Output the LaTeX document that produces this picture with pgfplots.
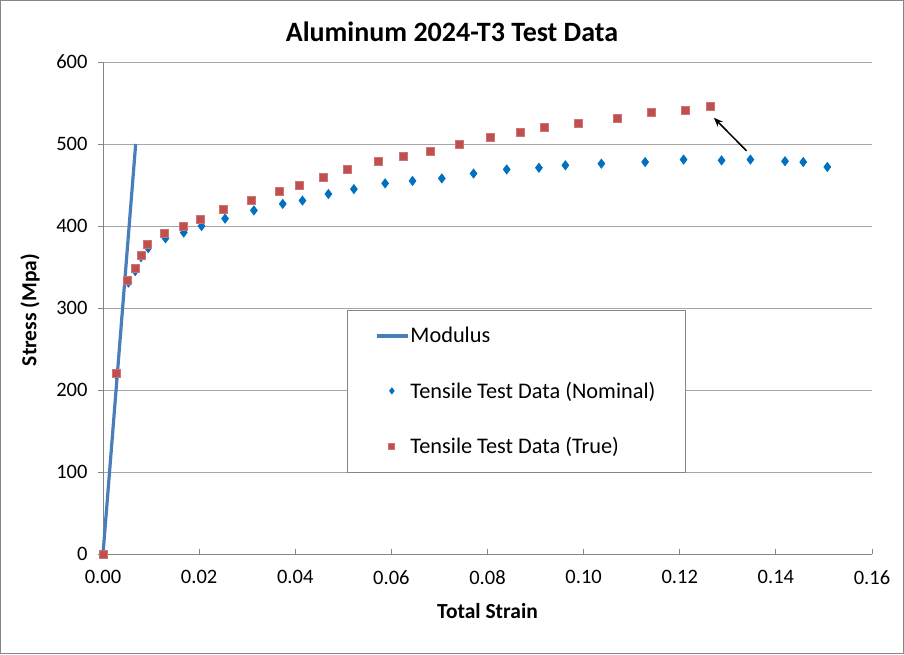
\documentclass[border=0pt]{standalone}
\usepackage{pgfplots}
\pgfplotsset{compat=1.18}
\usepackage{fontspec}
\setmainfont{Carlito}
\usetikzlibrary{arrows.meta}
\definecolor{modblue}{HTML}{4A7EBB}
\definecolor{nomblue}{HTML}{0070C0}
\definecolor{truered}{HTML}{C0504D}
\definecolor{gridgray}{HTML}{A6A6A6}
\definecolor{axgray}{HTML}{868686}
\begin{document}
\begin{tikzpicture}
\fill[white] (0pt,0pt) rectangle (904pt,654pt);
\draw[axgray, line width=1.2pt] (0.8pt,0.8pt) rectangle (903.2pt,653.2pt);
\node[font=\fontsize{28}{33}\selectfont\bfseries] at (452pt,622pt) {Aluminum 2024-T3 Test Data};
\begin{axis}[
  at={(103pt,100pt)}, anchor=south west,
  scale only axis, width=769pt, height=492pt,
  xmin=0, xmax=0.16, ymin=0, ymax=600,
  xtick={0,0.02,...,0.16}, ytick={0,100,...,600},
  xticklabel style={/pgf/number format/fixed, /pgf/number format/fixed zerofill, /pgf/number format/precision=2, yshift=-13pt},
  /pgf/number format/assume math mode=true,
  ticklabel style={font=\fontsize{20.5}{24}\selectfont},
  yticklabel style={xshift=-12pt},
  axis x line*=bottom, axis y line*=left,
  axis line style={axgray, line width=1pt, -},
  tick style={axgray, line width=1pt},
  tick align=inside, major tick length=5pt,
  y tick style={xshift=-5pt},
  ymajorgrids, grid style={gridgray, line width=1pt},
  xlabel={Total Strain}, ylabel={Stress (Mpa)},
  every axis x label/.style={at={(rel axis cs:0.5,0)}, yshift=-57pt, anchor=center, font=\fontsize{21.5}{25}\selectfont\bfseries},
  every axis y label/.style={at={(rel axis cs:0,0.496)}, xshift=-73pt, rotate=90, anchor=center, font=\fontsize{21.5}{25}\selectfont\bfseries},
  legend style={at={(0.317,0.496)}, anchor=north west, draw=axgray, line width=1pt,
    font=\fontsize{22.3}{26}\selectfont, inner xsep=28pt, inner ysep=15pt, row sep=33.5pt,
    legend cell align=left, fill=white},
  clip=false,
]
\addplot[modblue, line width=3.2pt, legend image code/.code={\draw[modblue, line width=3.2pt] (0pt,0pt) -- (31pt,0pt);}]
 coordinates {(0,0) (0.0068,500)};
\addlegendentry{\hspace{-1pt}Modulus}
\addplot[only marks, mark=diamond*, mark size=4.5pt, color=nomblue, mark options={fill=nomblue, draw=nomblue, line width=0.8pt},
  legend image code/.code={\draw[only marks, mark=diamond*, mark size=3pt, nomblue] plot coordinates {(15pt,0pt)};}]
 coordinates {
 (0,0) (0.0027,219) (0.0053,331) (0.0067,345) (0.0079,362) (0.0094,373) (0.0130,385) (0.0168,392)
 (0.0205,400) (0.0254,409) (0.0314,419) (0.0374,427) (0.0415,431) (0.0469,439) (0.0522,445)
 (0.0587,452) (0.0644,455) (0.0705,458) (0.0771,464) (0.0840,469) (0.0907,471) (0.0962,474)
 (0.1037,476) (0.1128,478) (0.1208,481) (0.1287,480) (0.1347,481) (0.1419,479) (0.1457,478) (0.1507,472)
 };
\addlegendentry{\hspace{-1pt}Tensile Test Data (Nominal)\hspace{-13pt}}
\addplot[only marks, mark=square*, mark size=4pt, color=truered, mark options={fill=truered, draw=truered!80!white},
  legend image code/.code={\draw[only marks, mark=square*, mark size=3pt, truered] plot coordinates {(15pt,0pt)};}]
 coordinates {
 (0,0) (0.0027,220) (0.0051,334) (0.0066,348) (0.0079,365) (0.0092,378) (0.0128,391) (0.0166,400)
 (0.0203,408) (0.0250,420) (0.0309,432) (0.0366,443) (0.0408,450) (0.0458,459) (0.0509,469)
 (0.0572,479) (0.0624,485) (0.0681,491) (0.0742,500) (0.0806,508) (0.0868,514) (0.0918,520)
 (0.0988,525) (0.1069,532) (0.1141,539) (0.1211,541) (0.1264,546)
 };
\addlegendentry{\hspace{-1pt}Tensile Test Data (True)}
\draw[-{Stealth[length=9pt,width=7pt]}, line width=1.5pt, black] (axis cs:0.1339,491.6) -- (axis cs:0.1271,532);
\end{axis}
\end{tikzpicture}
\end{document}
